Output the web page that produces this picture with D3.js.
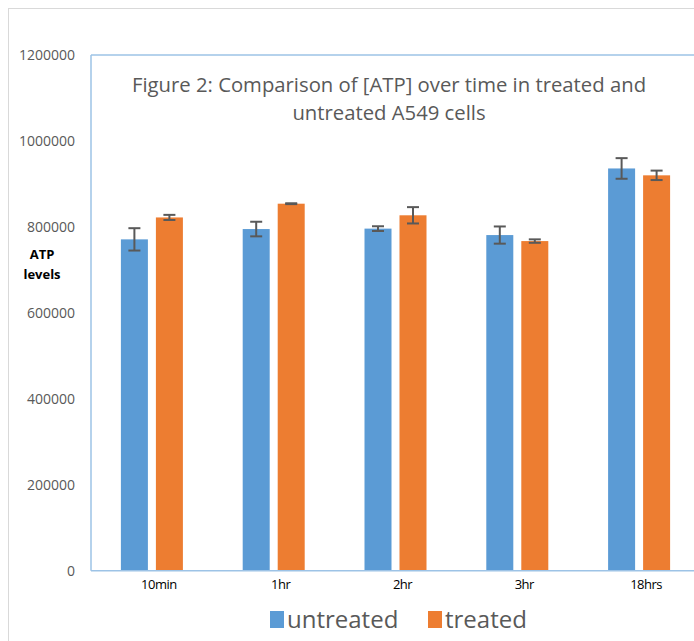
<!DOCTYPE html>
<html><head><meta charset="utf-8">
<script src="https://cdn.jsdelivr.net/npm/d3@7"></script>
<style>body{margin:0;background:#fff}</style></head>
<body><svg id="c" width="694" height="641"></svg>
<script>
const categories=["10min","1hr","2hr","3hr","18hrs"];
const untreated=[771000,795000,796000,781000,936000];
const treated=[822000,854000,827000,767000,920000];
const untreatedErr=[26000,17000,5500,20000,24000];
const treatedErr=[6000,1000,19000,4000,11000];
const yTicks=[0,200000,400000,600000,800000,1000000,1200000];
const seriesNames=["untreated","treated"];
const colors=["#5b9bd5","#ed7d31"];

const svg=d3.select("#c");
const font="'Open Sans', sans-serif";
svg.append("rect").attr("x",8.5).attr("y",8.5).attr("width",700).attr("height",640).attr("fill","none").attr("stroke","#d9d9d9");
const x=d3.scaleBand().domain(categories).range([91,700]);
const y=d3.scaleLinear().domain([0,1200000]).range([570.7,55]);
const blue="#9dc3e6";
svg.append("line").attr("x1",91).attr("x2",694).attr("y1",y(1200000)).attr("y2",y(1200000)).attr("stroke",blue).attr("stroke-width",1.5);
svg.append("line").attr("x1",91).attr("x2",91).attr("y1",y(1200000)).attr("y2",y(0)).attr("stroke",blue).attr("stroke-width",1.5);
svg.append("g").selectAll("text").data(yTicks).join("text")
 .attr("x",75).attr("y",d=>y(d)+5).attr("text-anchor","end")
 .attr("font-family",font).attr("font-size",14).attr("fill","#595959").text(d=>d);
const data=[untreated,treated], errs=[untreatedErr,treatedErr];
const off=[-17.5,17.5], bw=27;
data.forEach((s,si)=>{
 const g=svg.append("g");
 g.selectAll("rect").data(s).join("rect")
  .attr("x",(d,i)=>x(categories[i])+x.bandwidth()/2+off[si]-bw/2)
  .attr("y",d=>y(d)).attr("width",bw).attr("height",d=>y(0)-y(d)).attr("fill",colors[si]);
 s.forEach((d,i)=>{
  const cx=x(categories[i])+x.bandwidth()/2+off[si], e=errs[si][i];
  const eg=svg.append("g").attr("stroke","#595959").attr("stroke-width",2);
  eg.append("line").attr("x1",cx).attr("x2",cx).attr("y1",y(d-e)).attr("y2",y(d+e));
  [d-e,d+e].forEach(v=>eg.append("line").attr("x1",cx-6).attr("x2",cx+6).attr("y1",y(v)).attr("y2",y(v)));
 });
});
svg.append("line").attr("x1",91).attr("x2",694).attr("y1",y(0)).attr("y2",y(0)).attr("stroke",blue).attr("stroke-width",1.5);
svg.append("g").selectAll("text").data(categories).join("text")
 .attr("x",d=>x(d)+x.bandwidth()/2+7).attr("y",589).attr("text-anchor","middle")
 .attr("font-family",font).attr("font-size",13).attr("letter-spacing","-0.5").attr("fill","#000").text(d=>d);
svg.append("text").attr("x",389).attr("y",92).attr("text-anchor","middle").attr("font-family",font).attr("font-size",20.3).attr("fill","#595959").text("Figure 2: Comparison of [ATP] over time in treated and");
svg.append("text").attr("x",389).attr("y",120).attr("text-anchor","middle").attr("font-family",font).attr("font-size",20.3).attr("fill","#595959").text("untreated A549 cells");
svg.append("text").attr("x",42).attr("y",259).attr("text-anchor","middle").attr("font-family",font).attr("font-size",13).attr("font-weight","bold").text("ATP");
svg.append("text").attr("x",42).attr("y",279).attr("text-anchor","middle").attr("font-family",font).attr("font-size",13).attr("font-weight","bold").text("levels");
const lx=[270,428];
seriesNames.forEach((n,i)=>{
 svg.append("rect").attr("x",lx[i]).attr("y",611).attr("width",14).attr("height",17).attr("fill",colors[i]);
 svg.append("text").attr("x",lx[i]+17).attr("y",628).attr("font-family",font).attr("font-size",24).attr("fill","#595959").text(n);
});
</script></body></html>
